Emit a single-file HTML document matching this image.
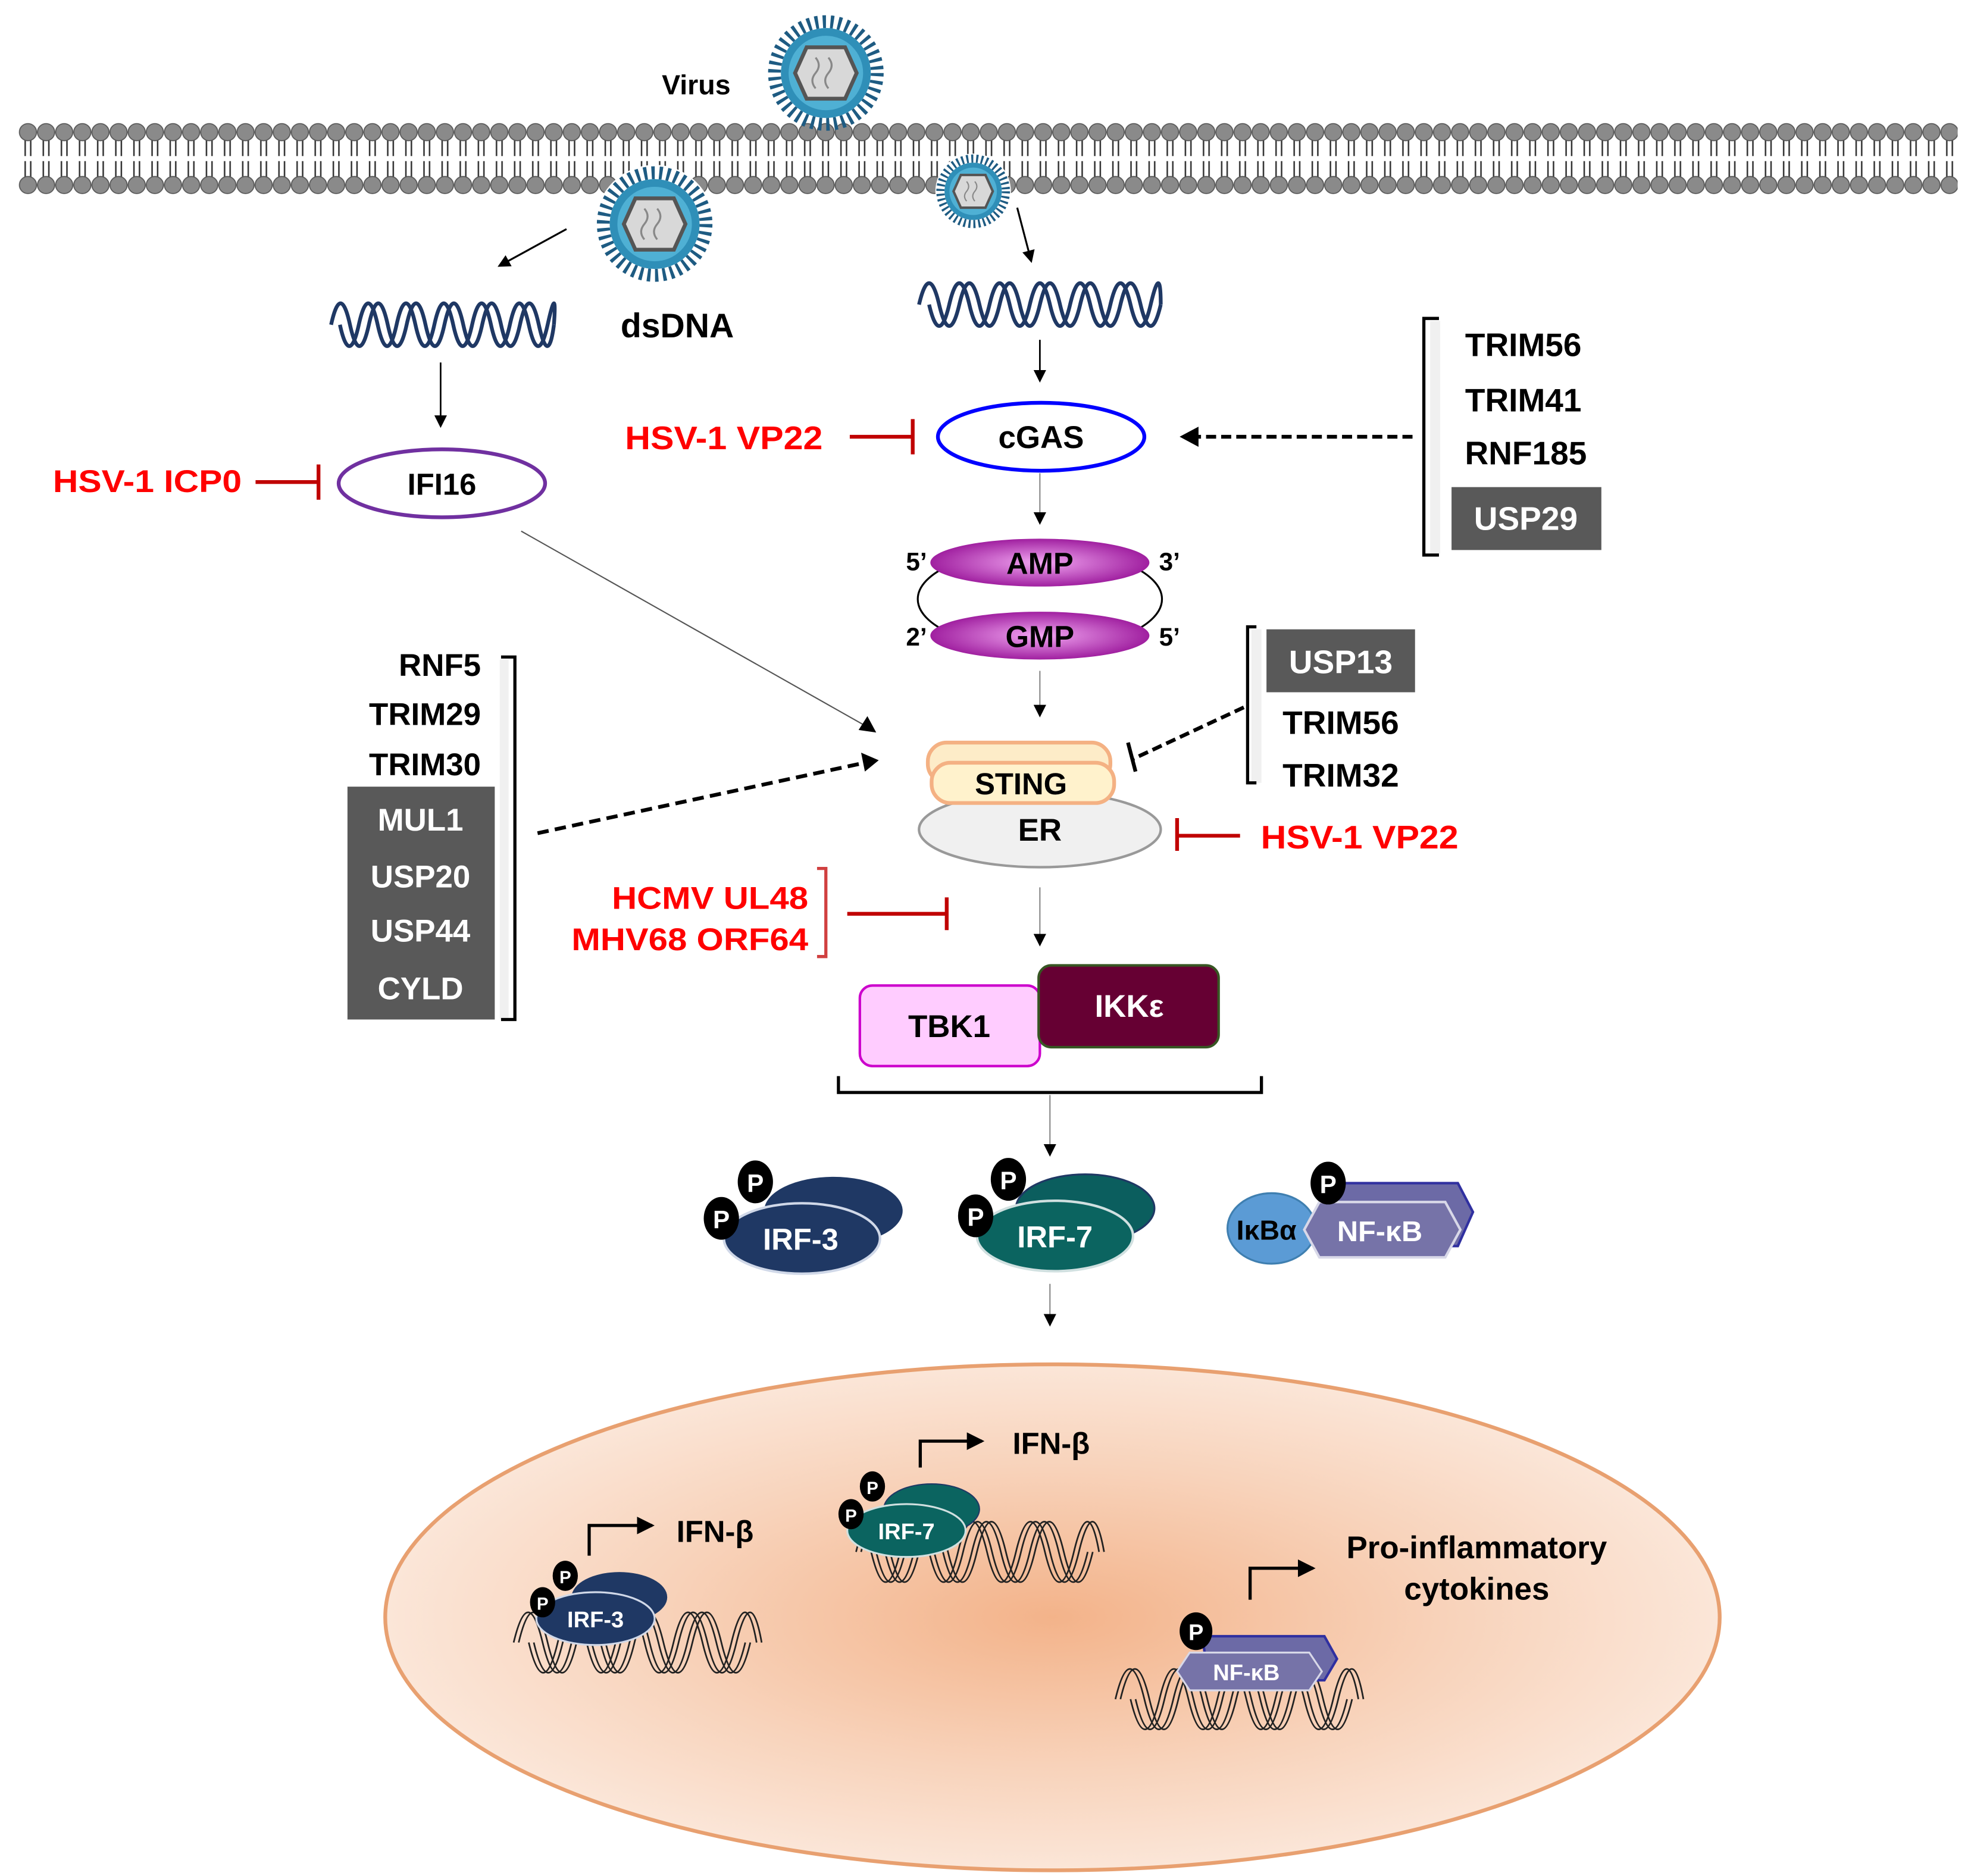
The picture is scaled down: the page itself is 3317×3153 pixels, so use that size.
<!DOCTYPE html>
<html><head><meta charset="utf-8"><style>
html,body{margin:0;padding:0;background:#fff}
svg{display:block}
text{font-family:"Liberation Sans",Arial,sans-serif;font-weight:bold}
</style></head><body>
<svg width="3317" height="3153" viewBox="0 0 1568 1490.5" preserveAspectRatio="none" xmlns="http://www.w3.org/2000/svg">
<defs>
<pattern id="mem" x="15" y="0" width="14.4" height="200" patternUnits="userSpaceOnUse">
<line x1="5" y1="110" x2="5" y2="124" stroke="#333" stroke-width="1.2"/>
<line x1="9.4" y1="110" x2="9.4" y2="124" stroke="#333" stroke-width="1.2"/>
<line x1="5" y1="128" x2="5" y2="142" stroke="#333" stroke-width="1.2"/>
<line x1="9.4" y1="128" x2="9.4" y2="142" stroke="#333" stroke-width="1.2"/>
<circle cx="7.2" cy="105" r="6.8" fill="#8a8a8a" stroke="#555" stroke-width="0.8"/>
<circle cx="7.2" cy="147" r="6.8" fill="#8a8a8a" stroke="#555" stroke-width="0.8"/>
</pattern>
<radialGradient id="nuc" cx="0.5" cy="0.5" r="0.5">
<stop offset="0" stop-color="#f3b38a"/><stop offset="0.6" stop-color="#f8d3bb"/><stop offset="1" stop-color="#fbe6d8"/>
</radialGradient>
<radialGradient id="mag" cx="0.5" cy="0.5" r="0.5">
<stop offset="0" stop-color="#f2a6f2"/><stop offset="1" stop-color="#a020a0"/>
</radialGradient>
<marker id="ah" markerWidth="10" markerHeight="10" refX="8" refY="5" orient="auto" markerUnits="userSpaceOnUse">
<path d="M0,0 L10,5 L0,10 z" fill="#000"/></marker>
<marker id="ah2" markerWidth="14" markerHeight="14" refX="12" refY="7" orient="auto" markerUnits="userSpaceOnUse">
<path d="M0,0 L14,7 L0,14 z" fill="#000"/></marker>
<g id="virus">
<circle r="40" fill="none" stroke="#1e5b82" stroke-width="10" stroke-dasharray="2.5 3.5"/>
<circle r="35" fill="#2f8fb8"/>
<circle r="29" fill="#4fb0d4"/>
<polygon points="-15,-20 15,-20 24,0 15,20 -15,20 -24,0" fill="#d8d8d8" stroke="#555" stroke-width="3"/>
<path d="M-8,-12 q5,6 0,12 q-5,6 0,12 M2,-12 q5,6 0,12 q-5,6 0,12" fill="none" stroke="#888" stroke-width="1.5"/>
</g>
</defs>

<rect x="15" y="96" width="1540" height="60" fill="url(#mem)"/>

<text x="553" y="75" font-size="22" text-anchor="middle">Virus</text>
<use href="#virus" transform="translate(656,58) scale(1.02)"/>
<circle cx="520" cy="178" r="47" fill="#fff"/>
<use href="#virus" transform="translate(520,178) scale(1.02)"/>
<circle cx="773" cy="152" r="30" fill="#fff"/>
<use href="#virus" transform="translate(773,152) scale(0.65)"/>

<line x1="450" y1="182" x2="397" y2="211" stroke="#000" stroke-width="1.5" marker-end="url(#ah)"/>
<line x1="808" y1="165" x2="819" y2="207" stroke="#000" stroke-width="1.5" marker-end="url(#ah)"/>

<g fill="none" stroke="#1f3864" stroke-width="3">
<path d="M263 258 q7.5 -34 15 0 t15 0 t15 0 t15 0 t15 0 t15 0 t15 0 t15 0 t15 0 t15 0 t15 0 t12 0"/>
<path d="M270 258 q7.5 34 15 0 t15 0 t15 0 t15 0 t15 0 t15 0 t15 0 t15 0 t15 0 t15 0 t15 0 t5 0"/>
<path d="M730 242 q8 -34 16 0 t16 0 t16 0 t16 0 t16 0 t16 0 t16 0 t16 0 t16 0 t16 0 t16 0 t16 0"/>
<path d="M738 242 q8 34 16 0 t16 0 t16 0 t16 0 t16 0 t16 0 t16 0 t16 0 t16 0 t16 0 t16 0 t8 0"/>
</g>
<text x="538" y="268" font-size="27" text-anchor="middle">dsDNA</text>

<line x1="350" y1="288" x2="350" y2="338" stroke="#000" stroke-width="1.3" marker-end="url(#ah)"/>
<ellipse cx="351" cy="384" rx="82" ry="27" fill="#fff" stroke="#7030a0" stroke-width="3"/>
<text x="351" y="393" font-size="24" text-anchor="middle">IFI16</text>
<text x="117" y="391" font-size="25" fill="#ff0000" text-anchor="middle" textLength="150" lengthAdjust="spacingAndGlyphs">HSV-1 ICP0</text>
<g stroke="#c00000" stroke-width="3"><line x1="203" y1="383" x2="253" y2="383"/><line x1="253" y1="369" x2="253" y2="397"/></g>

<line x1="826" y1="270" x2="826" y2="302" stroke="#000" stroke-width="1.3" marker-end="url(#ah)"/>
<ellipse cx="827" cy="347" rx="82" ry="27" fill="#fff" stroke="#0000ff" stroke-width="3"/>
<text x="827" y="356" font-size="25" text-anchor="middle">cGAS</text>
<text x="575" y="357" font-size="26" fill="#ff0000" text-anchor="middle" textLength="157" lengthAdjust="spacingAndGlyphs">HSV-1 VP22</text>
<g stroke="#c00000" stroke-width="3"><line x1="675" y1="347" x2="725" y2="347"/><line x1="725" y1="333" x2="725" y2="361"/></g>
<line x1="1122" y1="347" x2="945" y2="347" stroke="#000" stroke-width="3" stroke-dasharray="8 4"/>
<path d="M937 347 L952 339 L952 355 z" fill="#000"/>

<rect x="1136" y="255" width="8" height="185" fill="#f0f0f0"/>
<path d="M1143 253 H1131 V441 H1143" fill="none" stroke="#000" stroke-width="2.5"/>
<text x="1210" y="283" font-size="26" text-anchor="middle">TRIM56</text>
<text x="1210" y="327" font-size="26" text-anchor="middle">TRIM41</text>
<text x="1212" y="369" font-size="26" text-anchor="middle">RNF185</text>
<rect x="1153" y="387" width="119" height="50" fill="#595959"/>
<text x="1212" y="421" font-size="26" fill="#fff" text-anchor="middle">USP29</text>

<line x1="826" y1="376" x2="826" y2="415" stroke="#888" stroke-width="1" marker-end="url(#ah)"/>
<ellipse cx="826" cy="476" rx="97" ry="40" fill="none" stroke="#000" stroke-width="1.5"/>
<ellipse cx="826" cy="447" rx="87" ry="19" fill="url(#mag)"/>
<ellipse cx="826" cy="505" rx="87" ry="19" fill="url(#mag)"/>
<text x="826" y="456" font-size="24" text-anchor="middle">AMP</text>
<text x="826" y="514" font-size="24" text-anchor="middle">GMP</text>
<text x="728" y="453" font-size="20" text-anchor="middle">5’</text>
<text x="929" y="453" font-size="20" text-anchor="middle">3’</text>
<text x="728" y="513" font-size="20" text-anchor="middle">2’</text>
<text x="929" y="513" font-size="20" text-anchor="middle">5’</text>
<line x1="826" y1="533" x2="826" y2="568" stroke="#888" stroke-width="1" marker-end="url(#ah)"/>

<ellipse cx="826" cy="659" rx="96" ry="30" fill="#f0f0f0" stroke="#999" stroke-width="2"/>
<text x="826" y="668" font-size="25" text-anchor="middle">ER</text>
<rect x="737" y="590" width="145" height="32" rx="15" fill="#fdecc8" stroke="#f4b183" stroke-width="3"/>
<rect x="740" y="606" width="145" height="32" rx="15" fill="#fff2cc" stroke="#f4b183" stroke-width="3"/>
<text x="811" y="631" font-size="24" text-anchor="middle">STING</text>

<rect x="994" y="500" width="8" height="122" fill="#f0f0f0"/>
<path d="M998 498 H991 V622 H998" fill="none" stroke="#000" stroke-width="2.5"/>
<rect x="1006" y="500" width="118" height="50" fill="#595959"/>
<text x="1065" y="535" font-size="26" fill="#fff" text-anchor="middle">USP13</text>
<text x="1065" y="583" font-size="26" text-anchor="middle">TRIM56</text>
<text x="1065" y="625" font-size="26" text-anchor="middle">TRIM32</text>
<line x1="988" y1="562" x2="900" y2="603" stroke="#000" stroke-width="3" stroke-dasharray="8 4"/>
<line x1="896" y1="590" x2="902" y2="613" stroke="#000" stroke-width="3"/>
<text x="1080" y="674" font-size="26" fill="#ff0000" text-anchor="middle" textLength="157" lengthAdjust="spacingAndGlyphs">HSV-1 VP22</text>
<g stroke="#c00000" stroke-width="3"><line x1="935" y1="664" x2="985" y2="664"/><line x1="935" y1="650" x2="935" y2="676"/></g>

<text x="382" y="537" font-size="25" text-anchor="end">RNF5</text>
<text x="382" y="576" font-size="25" text-anchor="end">TRIM29</text>
<text x="382" y="616" font-size="25" text-anchor="end">TRIM30</text>
<rect x="276" y="625" width="117" height="185" fill="#595959"/>
<text x="334" y="660" font-size="25" fill="#fff" text-anchor="middle">MUL1</text>
<text x="334" y="705" font-size="25" fill="#fff" text-anchor="middle">USP20</text>
<text x="334" y="748" font-size="25" fill="#fff" text-anchor="middle">USP44</text>
<text x="334" y="794" font-size="25" fill="#fff" text-anchor="middle">CYLD</text>
<rect x="397" y="524" width="7" height="286" fill="#f0f0f0"/>
<path d="M398 522 H409 V810 H398" fill="none" stroke="#000" stroke-width="2.5"/>
<line x1="427" y1="662" x2="687" y2="606" stroke="#000" stroke-width="3" stroke-dasharray="9 5"/>
<path d="M698 604 L684 598 L687 613 z" fill="#000"/>
<line x1="414" y1="422" x2="688" y2="577" stroke="#555" stroke-width="1"/>
<path d="M696 582 L682 580 L689 569 z" fill="#000"/>

<text x="642" y="722" font-size="25" fill="#ff0000" text-anchor="end" textLength="156" lengthAdjust="spacingAndGlyphs">HCMV UL48</text>
<text x="642" y="755" font-size="25" fill="#ff0000" text-anchor="end" textLength="188" lengthAdjust="spacingAndGlyphs">MHV68 ORF64</text>
<path d="M649 690 H656 V760 H649" fill="none" stroke="#d04040" stroke-width="2.5"/>
<g stroke="#c00000" stroke-width="3"><line x1="673" y1="726" x2="752" y2="726"/><line x1="752" y1="713" x2="752" y2="739"/></g>
<line x1="826" y1="705" x2="826" y2="750" stroke="#888" stroke-width="1" marker-end="url(#ah)"/>

<rect x="683" y="783" width="143" height="64" rx="10" fill="#ffccff" stroke="#cc00cc" stroke-width="2"/>
<text x="754" y="824" font-size="25" text-anchor="middle">TBK1</text>
<rect x="825" y="767" width="143" height="65" rx="10" fill="#660033" stroke="#375623" stroke-width="2"/>
<text x="897" y="808" font-size="25" fill="#fff" text-anchor="middle">IKKε</text>
<path d="M666 855 V868 H1002 V855" fill="none" stroke="#000" stroke-width="2.5"/>
<line x1="834" y1="870" x2="834" y2="917" stroke="#888" stroke-width="1" marker-end="url(#ah)"/>

<ellipse cx="662" cy="962" rx="55" ry="27" fill="#1f3864"/>
<ellipse cx="637" cy="984" rx="62" ry="28" fill="#1f3864" stroke="#d0d8e8" stroke-width="2"/>
<text x="636" y="993" font-size="24" fill="#fff" text-anchor="middle">IRF-3</text>
<ellipse cx="600" cy="939" rx="14" ry="17" fill="#000"/><text x="600" y="947" font-size="20" fill="#fff" font-weight="normal" text-anchor="middle">P</text>
<ellipse cx="573" cy="968" rx="14" ry="17" fill="#000"/><text x="573" y="976" font-size="20" fill="#fff" font-weight="normal" text-anchor="middle">P</text>
<ellipse cx="862" cy="960" rx="55" ry="27" fill="#0b5e5e" stroke="#1f3864" stroke-width="1.5"/>
<ellipse cx="838" cy="982" rx="62" ry="28" fill="#0b6460" stroke="#d0e0e0" stroke-width="2"/>
<text x="838" y="991" font-size="24" fill="#fff" text-anchor="middle">IRF-7</text>
<ellipse cx="801" cy="937" rx="14" ry="17" fill="#000"/><text x="801" y="945" font-size="20" fill="#fff" font-weight="normal" text-anchor="middle">P</text>
<ellipse cx="775" cy="966" rx="14" ry="17" fill="#000"/><text x="775" y="974" font-size="20" fill="#fff" font-weight="normal" text-anchor="middle">P</text>
<ellipse cx="1010" cy="976" rx="35" ry="28" fill="#5b9bd5" stroke="#3f7fb0" stroke-width="1.5"/>
<text x="1006" y="985" font-size="22" font-weight="normal" text-anchor="middle">IκBα</text>
<polygon points="1055,940 1158,940 1170,963 1158,990 1060,990" fill="#6c6aa6" stroke="#3030a0" stroke-width="2"/>
<polygon points="1048,955 1148,955 1160,977 1148,999 1048,999 1036,977" fill="#7673a8" stroke="#d8d8e8" stroke-width="2"/>
<text x="1096" y="986" font-size="23" fill="#fff" text-anchor="middle">NF-κB</text>
<ellipse cx="1055" cy="940" rx="14" ry="17" fill="#000"/><text x="1055" y="948" font-size="20" fill="#fff" font-weight="normal" text-anchor="middle">P</text>

<line x1="834" y1="1020" x2="834" y2="1052" stroke="#888" stroke-width="1" marker-end="url(#ah)"/>

<ellipse cx="836" cy="1285" rx="530" ry="201" fill="url(#nuc)" stroke="#e8a070" stroke-width="3"/>

<g fill="none" stroke="#222" stroke-width="1.3">
<g id="dna1">
<path d="M408 1305 q11.5 -48 23 0 t23 0 t23 0 t23 0 t23 0 t23 0 t23 0 t23 0"/>
<path d="M412 1305 q11.5 -48 23 0 t23 0 t23 0 t23 0 t23 0 t23 0 t23 0 t23 0"/>
<path d="M420 1305 q11.5 48 23 0 t23 0 t23 0 t23 0 t23 0 t23 0 t23 0 t20 0"/>
<path d="M424 1305 q11.5 48 23 0 t23 0 t23 0 t23 0 t23 0 t23 0 t23 0 t20 0"/>
</g>
<use href="#dna1" transform="translate(272,-72)"/>
<use href="#dna1" transform="translate(478,45)"/>
</g>

<ellipse cx="492" cy="1269" rx="38" ry="20" fill="#1f3864"/>
<ellipse cx="473" cy="1286" rx="47" ry="21" fill="#1f3864" stroke="#d0d8e8" stroke-width="1.5"/>
<text x="473" y="1293" font-size="18" fill="#fff" text-anchor="middle">IRF-3</text>
<ellipse cx="449" cy="1252" rx="10" ry="12" fill="#000"/><text x="449" y="1258" font-size="14" fill="#fff" font-weight="normal" text-anchor="middle">P</text>
<ellipse cx="431" cy="1273" rx="10" ry="12" fill="#000"/><text x="431" y="1279" font-size="14" fill="#fff" font-weight="normal" text-anchor="middle">P</text>
<path d="M468 1236 V1212 H518" fill="none" stroke="#000" stroke-width="2.5" marker-end="url(#ah2)"/>
<text x="568" y="1225" font-size="24" text-anchor="middle">IFN-β</text>

<ellipse cx="740" cy="1199" rx="38" ry="20" fill="#0b6460" stroke="#1f3864" stroke-width="1"/>
<ellipse cx="720" cy="1216" rx="47" ry="21" fill="#0b6460" stroke="#d0e0e0" stroke-width="1.5"/>
<text x="720" y="1223" font-size="18" fill="#fff" text-anchor="middle">IRF-7</text>
<ellipse cx="693" cy="1181" rx="10" ry="12" fill="#000"/><text x="693" y="1187" font-size="14" fill="#fff" font-weight="normal" text-anchor="middle">P</text>
<ellipse cx="676" cy="1203" rx="10" ry="12" fill="#000"/><text x="676" y="1209" font-size="14" fill="#fff" font-weight="normal" text-anchor="middle">P</text>
<path d="M731 1166 V1145 H780" fill="none" stroke="#000" stroke-width="2.5" marker-end="url(#ah2)"/>
<text x="835" y="1155" font-size="24" text-anchor="middle">IFN-β</text>

<polygon points="955,1300 1052,1300 1062,1318 1052,1335 960,1335" fill="#6c6aa6" stroke="#3030a0" stroke-width="2"/>
<polygon points="945,1313 1040,1313 1050,1328 1040,1343 945,1343 935,1328" fill="#7673a8" stroke="#d8d8e8" stroke-width="1.5"/>
<text x="990" y="1335" font-size="18" fill="#fff" text-anchor="middle">NF-κB</text>
<ellipse cx="950" cy="1296" rx="13" ry="15" fill="#000"/><text x="950" y="1303" font-size="18" fill="#fff" font-weight="normal" text-anchor="middle">P</text>
<path d="M993 1271 V1246 H1043" fill="none" stroke="#000" stroke-width="2.5" marker-end="url(#ah2)"/>
<text x="1173" y="1238" font-size="25" text-anchor="middle">Pro-inflammatory</text>
<text x="1173" y="1271" font-size="25" text-anchor="middle">cytokines</text>
</svg>
</body></html>
